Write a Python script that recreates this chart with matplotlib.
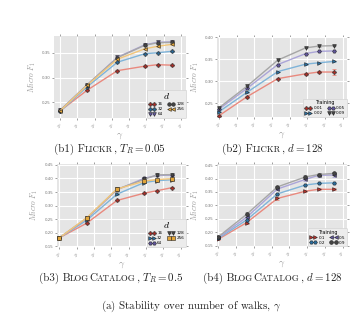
import numpy as np
import matplotlib.pyplot as plt

plt.style.use('ggplot')
plt.rcParams['mathtext.fontset'] = 'cm'

gamma = [1, 3, 10, 30, 50, 90]

# (b1) Flickr, T_R = 0.05, one curve per dimension d
b1_labels = ['16', '32', '64', '128', '256']
b1_vals = [
    [0.233, 0.275, 0.314, 0.323, 0.326, 0.325],
    [0.232, 0.282, 0.331, 0.348, 0.350, 0.353],
    [0.234, 0.286, 0.341, 0.366, 0.371, 0.372],
    [0.234, 0.286, 0.340, 0.365, 0.370, 0.371],
    [0.233, 0.285, 0.337, 0.358, 0.363, 0.367],
]
b1_err = [
    [0.001, 0.001, 0.001, 0.001, 0.001, 0.001],
    [0.001, 0.001, 0.001, 0.001, 0.001, 0.001],
    [0.001, 0.001, 0.001, 0.001, 0.001, 0.001],
    [0.001, 0.001, 0.001, 0.002, 0.002, 0.002],
    [0.001, 0.001, 0.001, 0.001, 0.001, 0.001],
]

# (b2) Flickr, d = 128, one curve per training ratio
b2_labels = ['0.01', '0.02', '0.05', '0.09']
b2_vals = [
    [0.222, 0.265, 0.306, 0.317, 0.321, 0.321],
    [0.231, 0.275, 0.322, 0.339, 0.342, 0.345],
    [0.237, 0.284, 0.338, 0.363, 0.368, 0.369],
    [0.240, 0.289, 0.348, 0.376, 0.380, 0.381],
]
b2_err = [
    [0.002, 0.002, 0.002, 0.002, 0.003, 0.006],
    [0.001, 0.001, 0.001, 0.001, 0.001, 0.001],
    [0.001, 0.001, 0.001, 0.001, 0.001, 0.001],
    [0.001, 0.001, 0.001, 0.001, 0.001, 0.001],
]

# (b3) BlogCatalog, T_R = 0.5, one curve per dimension d
b3_labels = ['16', '32', '64', '128', '256']
b3_vals = [
    [0.182, 0.236, 0.319, 0.346, 0.355, 0.366],
    [0.182, 0.247, 0.342, 0.385, 0.392, 0.395],
    [0.182, 0.253, 0.358, 0.401, 0.411, 0.412],
    [0.182, 0.255, 0.360, 0.397, 0.413, 0.414],
    [0.182, 0.256, 0.361, 0.390, 0.396, 0.399],
]
b3_err = [
    [0.002, 0.002, 0.002, 0.002, 0.002, 0.002],
    [0.002, 0.002, 0.002, 0.002, 0.002, 0.002],
    [0.002, 0.002, 0.002, 0.003, 0.003, 0.003],
    [0.002, 0.002, 0.002, 0.003, 0.003, 0.003],
    [0.002, 0.002, 0.002, 0.002, 0.002, 0.002],
]

# (b4) BlogCatalog, d = 128, one curve per training ratio
b4_labels = ['0.1', '0.2', '0.5', '0.9']
b4_vals = [
    [0.175, 0.236, 0.326, 0.353, 0.360, 0.360],
    [0.178, 0.246, 0.343, 0.376, 0.382, 0.384],
    [0.181, 0.256, 0.361, 0.397, 0.412, 0.413],
    [0.184, 0.267, 0.369, 0.406, 0.415, 0.419],
]
b4_err = [
    [0.004, 0.005, 0.004, 0.003, 0.003, 0.003],
    [0.004, 0.006, 0.004, 0.004, 0.004, 0.004],
    [0.004, 0.007, 0.005, 0.006, 0.006, 0.006],
    [0.005, 0.008, 0.005, 0.006, 0.007, 0.006],
]

line_cols = ['#e9897e', '#7fb4d9', '#aba5d8', '#a6a6a6', '#f2c67a']
mark_cols = ['#b8312a', '#2b6fa0', '#62579d', '#444444', '#e1a53b']

fig = plt.figure(figsize=(3.6, 3.32), dpi=100)
fig.patch.set_facecolor('white')


def panel(rect, vals, errs, labels, markers, title, title_size, ylim, yticks, xlim):
    ax = fig.add_axes(rect)
    ax.set_facecolor('#e5e5e5')
    for i in range(len(vals)):
        ax.errorbar(gamma, vals[i], yerr=errs[i], fmt='none', ecolor=line_cols[i],
                    elinewidth=0.6, capsize=1.2, capthick=0.6, zorder=2)
        ax.plot(gamma, vals[i], color=line_cols[i], lw=1.0, marker=markers[i],
                ms=2.7, mfc=mark_cols[i], mec='#222222', mew=0.4,
                label=labels[i], zorder=3)
    ax.set_xscale('log', base=2)
    ax.set_xlim(xlim)
    ax.set_xticks([2 ** k for k in range(8)])
    ax.set_xticklabels(['$2^{%d}$' % k for k in range(8)], rotation=45)
    ax.set_ylim(ylim)
    ax.set_yticks(yticks)
    ax.set_yticklabels(['%.2f' % v for v in yticks])
    ax.minorticks_off()
    ax.tick_params(axis='both', labelsize=2.9, colors='#777777', length=1.5,
                   width=0.5, pad=1, top=True, right=True, direction='out')
    ax.grid(True, color='white', lw=0.8)
    for s in ax.spines.values():
        s.set_visible(False)
    ax.set_ylabel(r'$Micro\ F_1$', fontsize=5.5, color='#999999', labelpad=3)
    ax.set_xlabel(r'$\gamma$', fontsize=7, color='#999999', labelpad=0)
    leg = ax.legend(loc='lower right', ncol=2, numpoints=2, fontsize=3,
                    title=title, title_fontsize=title_size, handlelength=1.6,
                    handletextpad=0.5, columnspacing=1.2, labelspacing=0.25,
                    borderpad=0.35, borderaxespad=0.05, frameon=True,
                    facecolor='#ececec', edgecolor='#d5d5d5', framealpha=1)
    leg.get_frame().set_linewidth(0.5)
    return ax


panel([0.150, 0.645, 0.367, 0.247], b1_vals, b1_err, b1_labels,
      ['P', 'P', 'v', '8', '<'], r'$d$', 7,
      (0.219, 0.384), [0.25, 0.30, 0.35], (2 ** -0.35, 2 ** 7.3))
panel([0.603, 0.648, 0.361, 0.241], b2_vals, b2_err, b2_labels,
      ['P', '>', 'H', 'v'], 'Training', 3.5,
      (0.219, 0.401), [0.25, 0.30, 0.35, 0.40], (2 ** -0.12, 2 ** 7.25))
panel([0.158, 0.256, 0.358, 0.250], b3_vals, b3_err, b3_labels,
      ['P', '>', 'H', 'v', 's'], r'$d$', 7,
      (0.148, 0.453), [0.15, 0.20, 0.25, 0.30, 0.35, 0.40, 0.45],
      (2 ** -0.15, 2 ** 7.3))
panel([0.603, 0.258, 0.361, 0.248], b4_vals, b4_err, b4_labels,
      ['>', 'H', '<', 'o'], 'Training', 3.5,
      (0.148, 0.454), [0.15, 0.20, 0.25, 0.30, 0.35, 0.40, 0.45],
      (2 ** -0.08, 2 ** 7.25))


def caption(xc, y, parts, size=7.9):
    # lay out pieces of different sizes on one baseline (fakes small caps)
    r = fig.canvas.get_renderer()
    texts = [fig.text(0, y, s, fontsize=size * k, va='baseline', color='#222222',
                      family='cmr10')
             for s, k in parts]
    widths = [t.get_window_extent(r).width / fig.bbox.width for t in texts]
    x = xc - sum(widths) / 2
    for t, w in zip(texts, widths):
        t.set_x(x)
        x += w


sc = 0.8
caption(0.305, 1 - 152 / 332, [('(b1) F', 1), ('LICKR', sc), (r', $T_R = 0.05$', 1)])
caption(0.757, 1 - 152 / 332, [('(b2) F', 1), ('LICKR', sc), (r', $d = 128$', 1)])
caption(0.308, 1 - 281 / 332, [('(b3) B', 1), ('LOG', sc), ('C', 1), ('ATALOG', sc),
                               (r', $T_R = 0.5$', 1)])
caption(0.757, 1 - 281 / 332, [('(b4) B', 1), ('LOG', sc), ('C', 1), ('ATALOG', sc),
                               (r', $d = 128$', 1)])
caption(0.53, 1 - 309 / 332, [(r'(a) Stability over number of walks, $\gamma$', 1)])

fig.savefig('out.png', dpi=100)
